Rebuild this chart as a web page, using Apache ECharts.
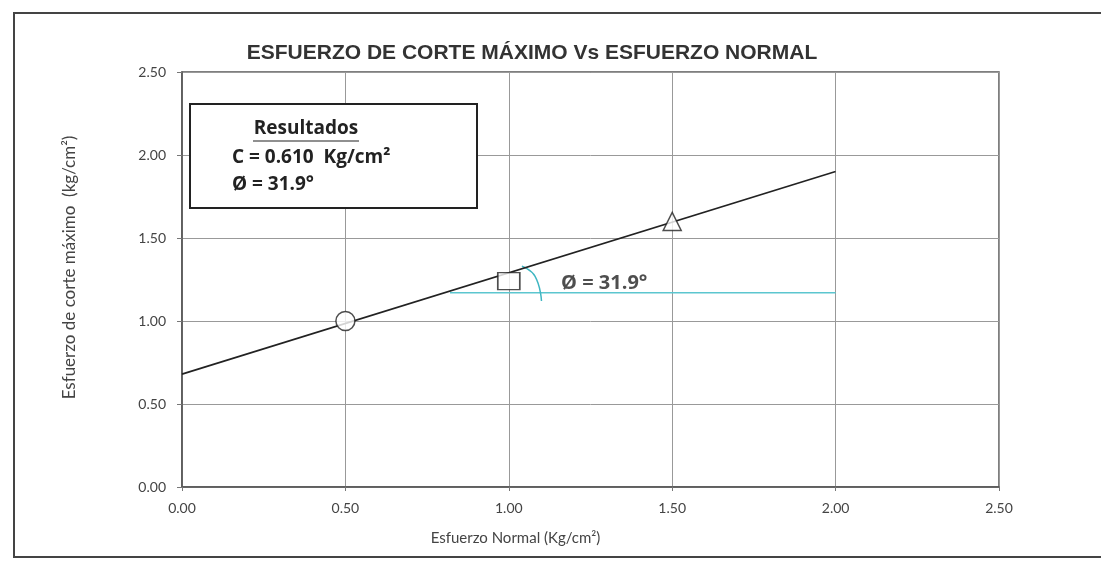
<!DOCTYPE html>
<html>
<head>
<meta charset="utf-8">
<script src="https://cdn.jsdelivr.net/npm/echarts@6/dist/echarts.min.js"></script>
<style>
html,body{margin:0;padding:0;background:#fff;}
#chart{width:1101px;height:561px;}
</style>
</head>
<body>
<div id="chart"></div>
<script>
// ---- data ----
const titleText = 'ESFUERZO DE CORTE MÁXIMO Vs ESFUERZO NORMAL';
const xAxisName = 'Esfuerzo Normal (Kg/cm²)';
const yAxisName = 'Esfuerzo de corte máximo  (kg/cm²)';
const normalStress = [0.50, 1.00, 1.50];
const shearStress = [1.00, 1.24, 1.60];
const fitX = [0.00, 2.00];
const fitY = [0.68, 1.90];
const refLineX = [0.82, 2.00];
const refLineY = [1.17, 1.17];
const arcX = [1.04, 1.08, 1.10];
const arcY = [1.33, 1.27, 1.12];
const phiLabelPos = [1.16, 1.23];
const phiLabel = 'Ø = 31.9°';
const resultsTitle = 'Resultados';
const resultsLines = ['C = 0.610  Kg/cm²', 'Ø = 31.9°'];
const axisMin = 0, axisMax = 2.5, axisStep = 0.5;

const chart = echarts.init(document.getElementById('chart'));
const pts = (xs, ys) => xs.map((x, i) => [x, ys[i]]);
const markerStyle = {color: '#fff', borderColor: '#222', borderWidth: 1.5};
const boxFont = {fontFamily: 'Open Sans', fontWeight: 'bold', fontSize: 19, fill: '#222', verticalAlign: 'middle'};

chart.setOption({
  backgroundColor: '#fff',
  animation: false,
  title: {
    text: titleText, left: 527, top: 38, textAlign: 'center',
    textStyle: {fontFamily: 'Liberation Sans', fontWeight: 'bold', fontSize: 21, color: '#333'}
  },
  grid: {left: 182, right: 102, top: 72, bottom: 74, show: true, borderColor: '#555', borderWidth: 1.5},
  xAxis: {
    type: 'value', min: axisMin, max: axisMax, interval: axisStep,
    name: xAxisName, nameLocation: 'middle', nameGap: 44,
    nameTextStyle: {fontFamily: 'Lato', fontSize: 15, color: '#444', padding: [0, 150, 0, 0]},
    axisLine: {show: true, lineStyle: {color: '#555', width: 1.5}},
    axisTick: {show: true, length: 4, lineStyle: {color: '#777'}},
    axisLabel: {fontFamily: 'Lato', fontSize: 14, color: '#444', margin: 14, formatter: v => v.toFixed(2)},
    splitLine: {show: true, lineStyle: {color: '#999', width: 1}}
  },
  yAxis: {
    type: 'value', min: axisMin, max: axisMax, interval: axisStep,
    name: yAxisName, nameLocation: 'middle', nameGap: 104, nameRotate: 90,
    nameTextStyle: {fontFamily: 'Lato', fontSize: 17, color: '#444', padding: [0, 0, 0, 24]},
    axisLine: {show: true, lineStyle: {color: '#555', width: 1.5}},
    axisTick: {show: true, length: 5, lineStyle: {color: '#777'}},
    axisLabel: {fontFamily: 'Lato', fontSize: 14, color: '#444', margin: 16, formatter: v => v.toFixed(2)},
    splitLine: {show: true, lineStyle: {color: '#999', width: 1}}
  },
  series: [
    {type: 'line', data: pts(fitX, fitY), symbol: 'none', lineStyle: {color: '#222', width: 1.6}, z: 3},
    {type: 'line', data: pts(refLineX, refLineY), symbol: 'none', lineStyle: {color: '#5cc6cf', width: 1.5}, z: 2},
    {type: 'line', data: pts(arcX, arcY), symbol: 'none', smooth: true, lineStyle: {color: '#3fb6c2', width: 1.5}, z: 2},
    {type: 'scatter', data: [[normalStress[0], shearStress[0]]], symbol: 'circle', symbolSize: 19, itemStyle: markerStyle, z: 5},
    {type: 'scatter', data: [[normalStress[1], shearStress[1]]], symbol: 'rect', symbolSize: [22, 17], itemStyle: markerStyle, z: 5},
    {type: 'scatter', data: [[normalStress[2], shearStress[2]]], symbol: 'triangle', symbolSize: 18, itemStyle: markerStyle, z: 5},
    {type: 'scatter', data: [phiLabelPos], symbolSize: 0, z: 6,
     label: {show: true, position: 'right', distance: 0, formatter: phiLabel,
             fontFamily: 'Open Sans', fontWeight: 'bold', fontSize: 20, color: '#222'}}
  ],
  graphic: [
    {type: 'polyline', shape: {points: [[1101, 13], [14, 13], [14, 557], [1101, 557]]}, style: {fill: 'none', stroke: '#444', lineWidth: 2}, z: 0, silent: true},
    {type: 'rect', shape: {x: 190, y: 104, width: 287, height: 104}, style: {fill: '#fff', stroke: '#222', lineWidth: 2}, z: 10},
    {type: 'text', x: 306, y: 129, style: Object.assign({text: resultsTitle, align: 'center'}, boxFont), z: 11},
    {type: 'line', shape: {x1: 253, y1: 141, x2: 359, y2: 141}, style: {stroke: '#222', lineWidth: 1.2}, z: 11},
    {type: 'text', x: 232, y: 158, style: Object.assign({text: resultsLines[0], align: 'left'}, boxFont), z: 11},
    {type: 'text', x: 232, y: 185, style: Object.assign({text: resultsLines[1], align: 'left'}, boxFont), z: 11}
  ]
});
</script>
</body>
</html>
